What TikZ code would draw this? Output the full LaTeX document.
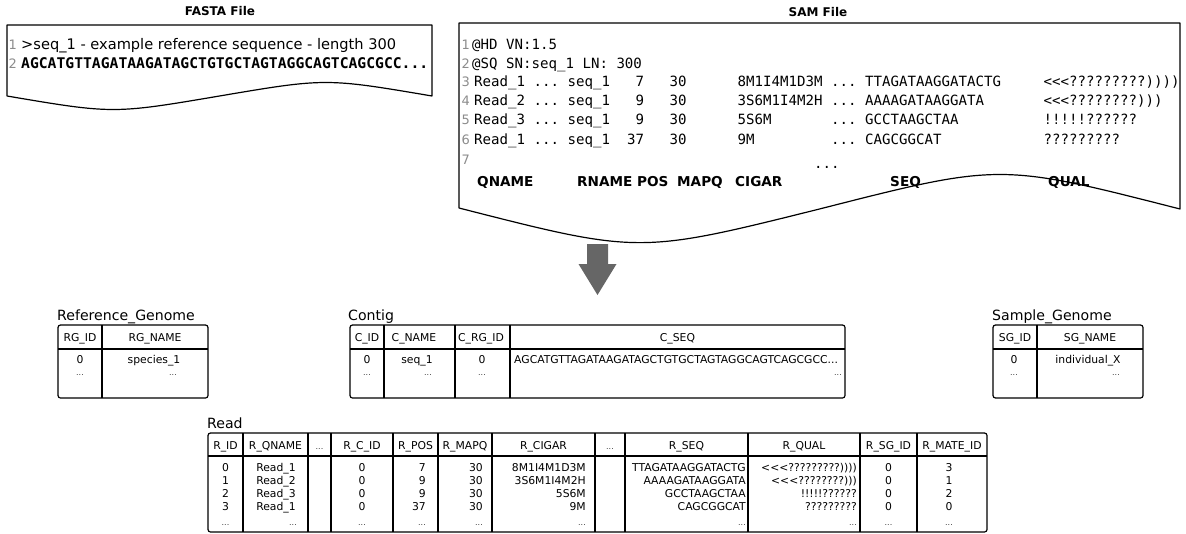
\documentclass[tikz,border=0pt]{standalone}
\usepackage{fontspec}
\setmainfont{DejaVu Sans}
\setmonofont{DejaVu Sans Mono}
\usepackage{tikz}

\definecolor{numgray}{HTML}{8C8C8C}
\definecolor{arrowgray}{HTML}{666666}

\newcommand{\fsz}[1]{\fontsize{#1}{#1}\selectfont}
\newcommand{\tdots}{{\fsz{8}\color{black!75}...}}

% one SAM record, fields on a fixed grid of 8.5pt characters
\newcommand{\samrec}[7]{%
  \makebox[59.5pt][l]{#1}\makebox[34pt][l]{...}%
  \makebox[59.5pt][l]{#2}\makebox[17pt][r]{#3}\hspace{25.5pt}%
  \makebox[68pt][l]{#4}\makebox[93.5pt][l]{#5}\makebox[34pt][l]{...}%
  \makebox[178.5pt][l]{#6}#7}

\tikzset{
  doc/.style={line width=1.2pt, line join=round},
  filetitle/.style={anchor=base, inner sep=0, font=\fsz{12}\bfseries},
  lnum/.style={anchor=base east, inner sep=0, font=\fsz{13}, text=numgray},
  code/.style={anchor=base west, inner sep=0, font=\ttfamily\fsz{14.1}},
  plain/.style={anchor=base west, inner sep=0, font=\fsz{14.6}},
  colname/.style={anchor=base west, inner sep=0, font=\fsz{13.6}\bfseries},
  tbl/.style={line width=1.2pt, rounded corners=2.5pt},
  tblsep/.style={line width=1.1pt},
  tbltitle/.style={anchor=base west, inner sep=0, font=\fsz{14.1}},
  cell/.style={anchor=base, inner sep=0, font=\fsz{10.8}},
  rcell/.style={cell, anchor=base east},
  lcell/.style={cell, anchor=base west},
}

\begin{document}
\begin{tikzpicture}[x=1pt, y=-1pt]
\useasboundingbox (0,0) rectangle (1186,533);

% FASTA file
\node[filetitle] (fastatitle) at (220,15.5) {FASTA File};
\draw[doc] (7,96) -- (7,25) -- (432,25) -- (432,96)
  .. controls (325.75,78) .. (219.5,96) .. controls (113.25,114) .. (7,96) -- cycle;
\node[lnum] (fn1) at (17,49) {1};
\node[lnum] (fn2) at (17,68) {2};
\node[plain] (fl1) at (21,49) {>seq\_1 - example reference sequence - length 300};
\node[code, font=\ttfamily\bfseries\fsz{14.7}] (fl2) at (21,68) {AGCATGTTAGATAAGATAGCTGTGCTAGTAGGCAGTCAGCGCC...};

% SAM file
\node[filetitle] (samtitle) at (818,16) {SAM File};
\draw[doc] (459,208) -- (459,23) -- (1180,23) -- (1180,209)
  .. controls (1000,163) .. (819.5,209) .. controls (639,254) .. (459,208) -- cycle;
\foreach \i/\y in {1/49,2/68,3/86.5,4/105.5,5/124.5,6/144,7/164.5}
  \node[lnum] (sn\i) at (470,\y) {\i};
\node[code] (sl1) at (472,49) {@HD VN:1.5};
\node[code] (sl2) at (472,68) {@SQ SN:seq\_1 LN: 300};
\node[code] (sl3) at (474,86.5) {\samrec{Read\_1}{seq\_1}{7}{30}{8M1I4M1D3M}{TTAGATAAGGATACTG}{<<<?????????))))}};
\node[code] (sl4) at (474,105.5) {\samrec{Read\_2}{seq\_1}{9}{30}{3S6M1I4M2H}{AAAAGATAAGGATA}{<<<????????)))}};
\node[code] (sl5) at (474,124.5) {\samrec{Read\_3}{seq\_1}{9}{30}{5S6M}{GCCTAAGCTAA}{!!!!!??????}};
\node[code] (sl6) at (474,144) {\samrec{Read\_1}{seq\_1}{37}{30}{9M}{CAGCGGCAT}{?????????}};
\node[code] (sl7) at (814,168) {...};
% column names
\foreach \name/\x in {QNAME/477,RNAME/577,POS/637,MAPQ/677,CIGAR/735,SEQ/890,QUAL/1048}
  \node[colname] (col\name) at (\x,186) {\name};

% conversion arrow
\fill[arrowgray] (587,244) -- (608,244) -- (608,264) -- (616.5,264) -- (597.5,295)
  -- (578.5,264) -- (587,264) -- cycle;

% Reference_Genome table
\node[tbltitle] (rgtitle) at (57,320) {Reference\_Genome};
\draw[tbl] (58,325) rectangle (208,398);
\draw[tblsep] (58,349) -- (208,349);
\draw[tblsep] (102,325) -- (102,398);
\node[cell] (rgh1) at (80,341) {RG\_ID};
\node[cell] (rgh2) at (155,341) {RG\_NAME};
\node[cell] (rg1a) at (80,363) {0};
\node[cell] (rg1b) at (154,363) {species\_1};
\node[cell] (rg2a) at (80,375) {\tdots};
\node[rcell] (rg2b) at (177,375) {\tdots};

% Contig table
\node[tbltitle] (ctitle) at (348,320) {Contig};
\draw[tbl] (350,325) rectangle (845,398);
\draw[tblsep] (350,349) -- (845,349);
\foreach \x in {384,455,510}
  \draw[tblsep] (\x,325) -- (\x,398);
\node[cell] (ch1) at (367,341) {C\_ID};
\node[cell] (ch2) at (414,341) {C\_NAME};
\node[cell] (ch3) at (481,341) {C\_RG\_ID};
\node[cell] (ch4) at (677.5,341) {C\_SEQ};
\node[cell] (c1a) at (367,363) {0};
\node[cell] (c1b) at (417,363) {seq\_1};
\node[cell] (c1c) at (482,363) {0};
\node[lcell] (c1d) at (514,363) {AGCATGTTAGATAAGATAGCTGTGCTAGTAGGCAGTCAGCGCC...};
\node[cell] (c2a) at (367,375) {\tdots};
\node[rcell] (c2b) at (432,375) {\tdots};
\node[cell] (c2c) at (482,375) {\tdots};
\node[rcell] (c2d) at (842,375) {\tdots};

% Sample_Genome table
\node[tbltitle] (sgtitle) at (992,320) {Sample\_Genome};
\draw[tbl] (993,325) rectangle (1143,398);
\draw[tblsep] (993,349) -- (1143,349);
\draw[tblsep] (1037,325) -- (1037,398);
\node[cell] (sgh1) at (1015,341) {SG\_ID};
\node[cell] (sgh2) at (1090,341) {SG\_NAME};
\node[cell] (sg1a) at (1014,363) {0};
\node[cell] (sg1b) at (1088,363) {individual\_X};
\node[cell] (sg2a) at (1014,375) {\tdots};
\node[rcell] (sg2b) at (1120,375) {\tdots};

% Read table
\node[tbltitle] (rtitle) at (207,428) {Read};
\draw[tbl] (208,433) rectangle (987,532);
\draw[tblsep] (208,456) -- (987,456);
\foreach \x in {243,308,331,393,438,492,595,625,748,860,917}
  \draw[tblsep] (\x,433) -- (\x,532);
\foreach \txt/\x [count=\i] in {R\_ID/225.5, R\_QNAME/275.5, \tdots/319.5, R\_C\_ID/362,
    R\_POS/415.5, R\_MAPQ/465, R\_CIGAR/543.5, \tdots/610, R\_SEQ/686.5, R\_QUAL/804,
    R\_SG\_ID/888.5, R\_MATE\_ID/952}
  \node[cell] (rh\i) at (\x,449) {\txt};
\foreach \rid/\qn/\pos/\cig/\sq/\ql/\mate [count=\i] in {
    0/Read\_1/7/8M1I4M1D3M/TTAGATAAGGATACTG/<{}<{}<?????????))))/3,
    1/Read\_2/9/3S6M1I4M2H/AAAAGATAAGGATA/<{}<{}<????????)))/1,
    2/Read\_3/9/5S6M/GCCTAAGCTAA/!!!!!??????/2,
    3/Read\_1/37/9M/CAGCGGCAT/?????????/0}
{
  \pgfmathsetmacro{\yb}{471+13.2*(\i-1)}
  \node[cell] (r\i-id) at (225.5,\yb) {\rid};
  \node[cell] (r\i-qn) at (276,\yb) {\qn};
  \node[cell] (r\i-c) at (362,\yb) {0};
  \node[rcell] (r\i-pos) at (426,\yb) {\pos};
  \node[rcell] (r\i-mq) at (483,\yb) {30};
  \node[rcell] (r\i-cig) at (586,\yb) {\cig};
  \node[rcell] (r\i-seq) at (746,\yb) {\sq};
  \node[rcell] (r\i-ql) at (857,\yb) {\ql};
  \node[cell] (r\i-sg) at (888.5,\yb) {0};
  \node[cell] (r\i-mate) at (949,\yb) {\mate};
}
\node[cell] (r5-id) at (225.5,525) {\tdots};
\node[rcell] (r5-qn) at (297,525) {\tdots};
\node[cell] (r5-c) at (362,525) {\tdots};
\node[rcell] (r5-pos) at (426,525) {\tdots};
\node[rcell] (r5-mq) at (483,525) {\tdots};
\node[rcell] (r5-cig) at (586,525) {\tdots};
\node[rcell] (r5-seq) at (746,525) {\tdots};
\node[rcell] (r5-ql) at (857,525) {\tdots};
\node[cell] (r5-sg) at (888.5,525) {\tdots};
\node[cell] (r5-mate) at (949,525) {\tdots};
\end{tikzpicture}
\end{document}
